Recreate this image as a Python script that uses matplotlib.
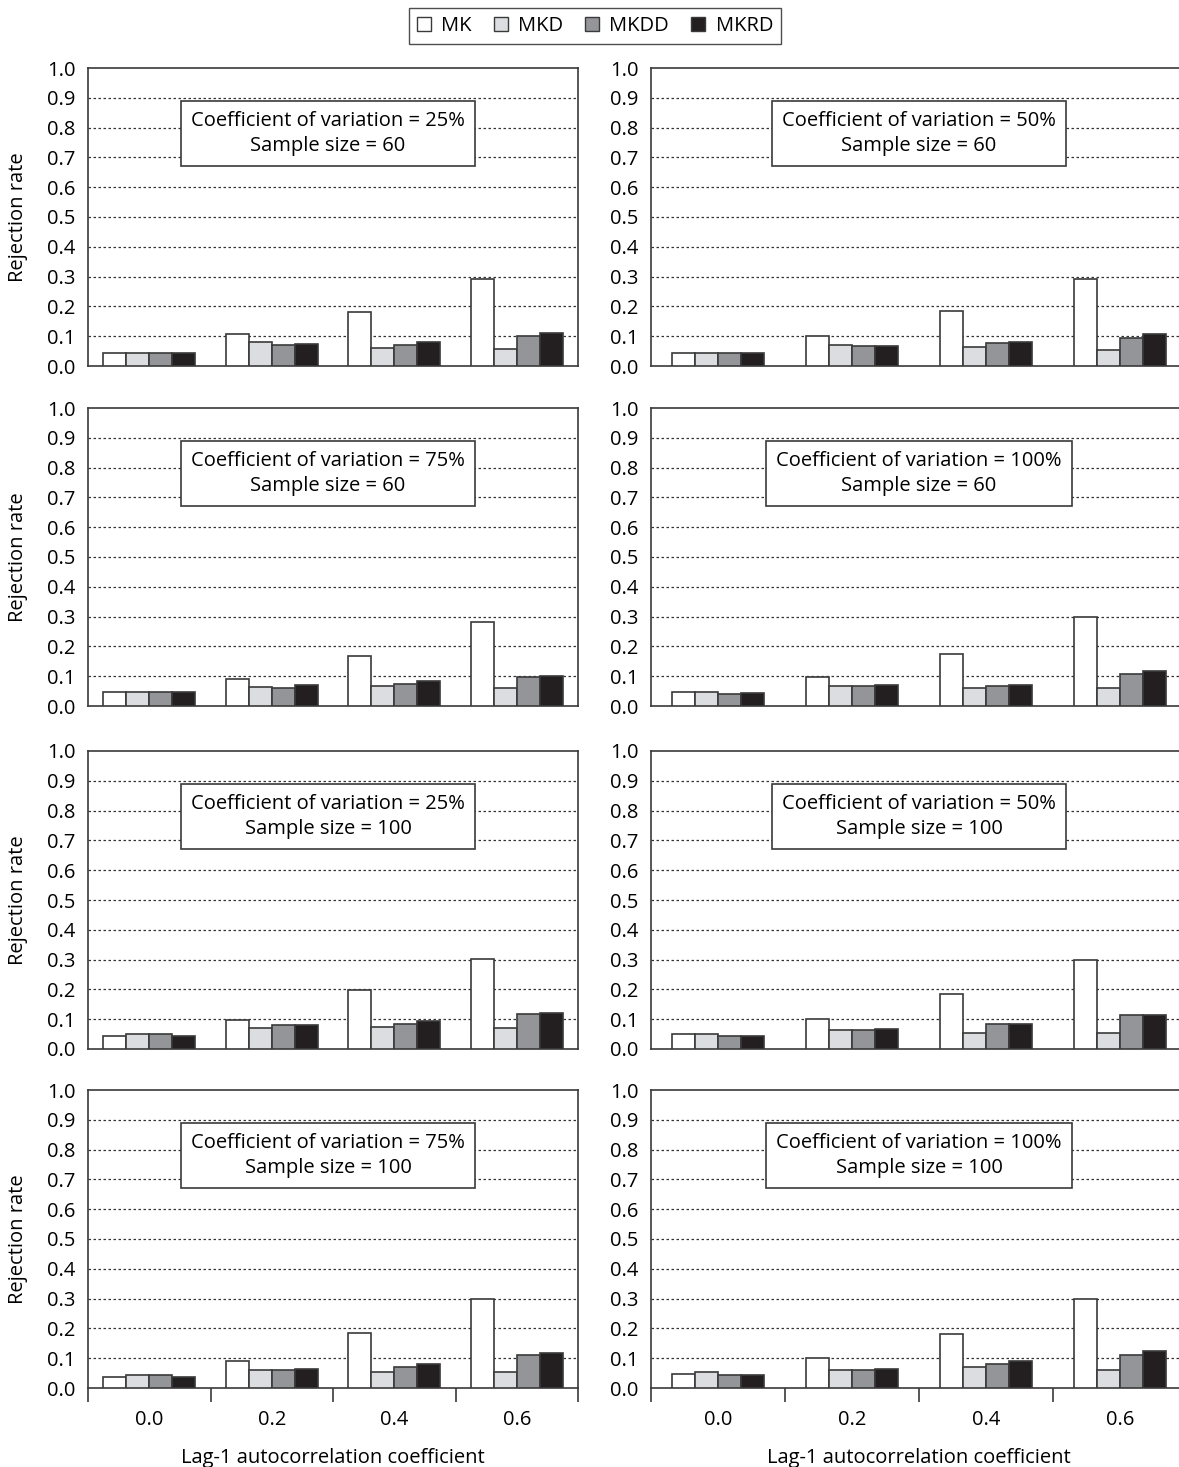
import numpy as np
import matplotlib
matplotlib.use("Agg")
from matplotlib import pyplot as plt
from matplotlib.patches import Patch

plt.rcParams["font.family"] = ["Open Sans", "DejaVu Sans"]

lags = ["0.0", "0.2", "0.4", "0.6"]
tests = ["MK", "MKD", "MKDD", "MKRD"]
colours = ["white", "#dcdde0", "#939598", "#231f20"]

# panel titles (coefficient of variation, sample size)
cv = ["25%", "50%", "75%", "100%", "25%", "50%", "75%", "100%"]
sizes = [60, 60, 60, 60, 100, 100, 100, 100]

# rejection rates: rows = lag groups, cols = MK, MKD, MKDD, MKRD
cv25_n60 = [[0.045, 0.045, 0.045, 0.045],
            [0.107, 0.079, 0.072, 0.073],
            [0.180, 0.062, 0.072, 0.080],
            [0.292, 0.057, 0.102, 0.110]]
cv50_n60 = [[0.044, 0.044, 0.044, 0.044],
            [0.102, 0.072, 0.066, 0.066],
            [0.185, 0.064, 0.076, 0.080],
            [0.292, 0.054, 0.094, 0.109]]
cv75_n60 = [[0.047, 0.047, 0.047, 0.047],
            [0.089, 0.065, 0.061, 0.070],
            [0.167, 0.066, 0.073, 0.083],
            [0.282, 0.060, 0.097, 0.099]]
cv100_n60 = [[0.047, 0.047, 0.040, 0.042],
             [0.097, 0.067, 0.067, 0.070],
             [0.176, 0.060, 0.067, 0.070],
             [0.298, 0.060, 0.106, 0.116]]
cv25_n100 = [[0.043, 0.052, 0.052, 0.043],
             [0.098, 0.070, 0.079, 0.080],
             [0.197, 0.075, 0.084, 0.093],
             [0.301, 0.070, 0.118, 0.120]]
cv50_n100 = [[0.052, 0.052, 0.042, 0.045],
             [0.101, 0.064, 0.064, 0.066],
             [0.184, 0.054, 0.083, 0.083],
             [0.297, 0.055, 0.115, 0.115]]
cv75_n100 = [[0.037, 0.045, 0.045, 0.038],
             [0.090, 0.061, 0.061, 0.063],
             [0.184, 0.055, 0.072, 0.081],
             [0.298, 0.055, 0.112, 0.116]]
cv100_n100 = [[0.046, 0.054, 0.045, 0.045],
              [0.099, 0.061, 0.061, 0.063],
              [0.181, 0.070, 0.080, 0.089],
              [0.300, 0.060, 0.112, 0.124]]

panels = [cv25_n60, cv50_n60, cv75_n60, cv100_n60,
          cv25_n100, cv50_n100, cv75_n100, cv100_n100]

W, H = 1179, 1467
fig = plt.figure(figsize=(W / 100, H / 100), dpi=100)

row_top = [68, 408, 751, 1090]
ph = 298
col_left = [88, 651]
col_w = [490, 536]
box_x = [0.49, 0.50]
edge = "#3a3a3a"
fs = 14.5

for i, data in enumerate(panels):
    r, c = divmod(i, 2)
    ax = fig.add_axes([col_left[c] / W, 1 - (row_top[r] + ph) / H, col_w[c] / W, ph / H])
    vals = np.array(data)
    x = np.arange(len(lags))
    bw = 23 / (col_w[c] / 4)
    for j in range(len(tests)):
        ax.bar(x + (j - 1.5) * bw, vals[:, j], bw, color=colours[j],
               edgecolor=edge, linewidth=1.2, zorder=3)
    ax.set_xlim(-0.5, 3.5)
    ax.set_ylim(0, 1.0)
    ax.set_yticks(np.arange(0, 1.01, 0.1))
    ax.set_yticklabels([f"{v:.1f}" for v in np.arange(0, 1.01, 0.1)], fontsize=fs)
    ax.tick_params(axis="y", length=0, pad=9)
    for g in np.arange(0.1, 0.95, 0.1):
        ax.axhline(g, color="#333333", linestyle=(0, (2, 2)), linewidth=0.9, zorder=1)
    for s in ["left", "top", "bottom", "right"]:
        ax.spines[s].set_color(edge)
        ax.spines[s].set_linewidth(1.2)
    if c == 1:
        ax.spines["right"].set_visible(False)
    if r == 3:
        ax.set_xticks(np.arange(-0.5, 4, 1.0))
        ax.set_xticklabels([])
        ax.set_xticks(x, minor=True)
        ax.set_xticklabels(lags, minor=True, fontsize=fs)
        ax.tick_params(axis="x", which="major", length=10, width=1.2, color=edge)
        ax.tick_params(axis="x", which="minor", length=0, pad=16)
        ax.set_xlabel("Lag-1 autocorrelation coefficient", fontsize=fs, labelpad=13)
    else:
        ax.set_xticks([])
    ax.text(box_x[c], 0.78, f"Coefficient of variation = {cv[i]}\nSample size = {sizes[i]}",
            transform=ax.transAxes,
            ha="center", va="center", fontsize=fs, linespacing=1.3, zorder=5,
            bbox=dict(boxstyle="square,pad=0.5", facecolor="white", edgecolor=edge, linewidth=1.2))
    if c == 0:
        fig.text(18 / W, 1 - (row_top[r] + ph / 2) / H, "Rejection rate",
                 rotation=90, ha="center", va="center", fontsize=fs)

handles = [Patch(facecolor=colours[j], edgecolor=edge, linewidth=1.0) for j in range(4)]
fig.legend(handles, tests, loc="center", bbox_to_anchor=(595 / W, 1 - 26 / H),
           ncol=4, frameon=True, fancybox=False, edgecolor="#222222", fontsize=fs,
           handlelength=0.7, handleheight=0.7, handletextpad=0.5, columnspacing=1.1,
           borderpad=0.4)

fig.savefig("out.png", dpi=100, facecolor="white")
